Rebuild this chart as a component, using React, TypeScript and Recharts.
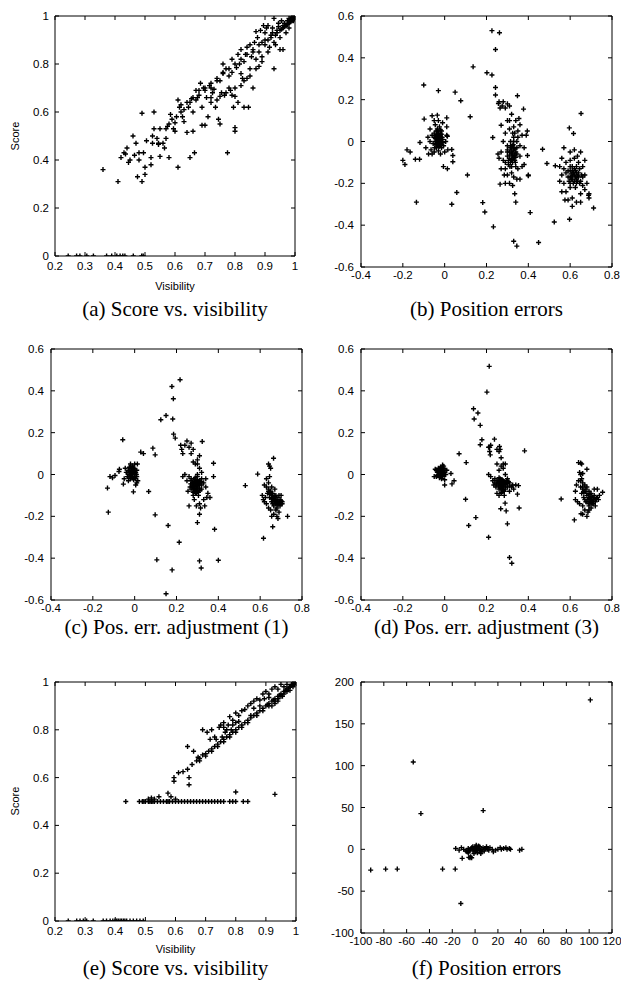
import React from 'react';
import { ScatterChart, Scatter, XAxis, YAxis } from 'recharts';

type Pt = [number, number];

// ---------- tick values ----------
const visTicks = [0.2, 0.3, 0.4, 0.5, 0.6, 0.7, 0.8, 0.9, 1];
const scoreTicks = [0, 0.2, 0.4, 0.6, 0.8, 1];
const posXTicks = [-0.4, -0.2, 0, 0.2, 0.4, 0.6, 0.8];
const posYTicks = [-0.6, -0.4, -0.2, 0, 0.2, 0.4, 0.6];
const pixXTicks = [-100, -80, -60, -40, -20, 0, 20, 40, 60, 80, 100, 120];
const pixYTicks = [-100, -50, 0, 50, 100, 150, 200];

// ---------- (a) score vs visibility ----------
const aZeroRow: Pt[] = [
  [0.244, 0], [0.272, 0], [0.283, 0], [0.306, 0], [0.328, 0], [0.372, 0], [0.389, 0],
  [0.406, 0], [0.417, 0], [0.426, 0], [0.433, 0], [0.461, 0], [0.489, 0], [0.494, 0],
];
const aScatter: Pt[] = [
  [0.36, 0.36], [0.41, 0.31], [0.42, 0.41], [0.43, 0.43], [0.435, 0.425], [0.44, 0.45], [0.445, 0.39],
  [0.45, 0.4], [0.46, 0.5], [0.465, 0.42], [0.47, 0.47], [0.475, 0.33], [0.48, 0.43], [0.48, 0.4],
  [0.49, 0.31], [0.49, 0.595], [0.495, 0.43], [0.5, 0.34], [0.5, 0.37], [0.505, 0.48], [0.52, 0.38],
  [0.52, 0.41], [0.525, 0.47], [0.525, 0.5], [0.53, 0.6], [0.53, 0.53], [0.54, 0.49], [0.545, 0.47],
  [0.545, 0.465], [0.55, 0.53], [0.55, 0.415], [0.56, 0.47], [0.565, 0.45], [0.57, 0.49], [0.57, 0.53],
  [0.575, 0.54], [0.58, 0.41], [0.58, 0.55], [0.585, 0.59], [0.59, 0.57], [0.595, 0.53], [0.6, 0.52],
  [0.6, 0.555], [0.605, 0.58], [0.61, 0.65], [0.61, 0.37], [0.615, 0.62], [0.62, 0.6], [0.625, 0.58],
  [0.63, 0.56], [0.63, 0.61], [0.64, 0.515], [0.645, 0.62], [0.65, 0.41], [0.65, 0.64], [0.655, 0.655],
  [0.66, 0.52], [0.66, 0.6], [0.665, 0.43], [0.67, 0.65], [0.67, 0.69], [0.675, 0.66], [0.68, 0.67],
  [0.685, 0.72], [0.69, 0.62], [0.69, 0.545], [0.695, 0.7], [0.7, 0.69], [0.7, 0.545], [0.705, 0.66],
  [0.71, 0.58], [0.715, 0.71], [0.72, 0.7], [0.72, 0.64], [0.725, 0.68], [0.73, 0.695], [0.735, 0.62],
  [0.74, 0.74], [0.74, 0.65], [0.745, 0.57], [0.75, 0.55], [0.75, 0.73], [0.755, 0.68], [0.76, 0.8],
  [0.76, 0.765], [0.765, 0.67], [0.77, 0.78], [0.775, 0.43], [0.78, 0.75], [0.78, 0.7], [0.785, 0.69],
  [0.79, 0.82], [0.79, 0.765], [0.795, 0.62], [0.8, 0.52], [0.8, 0.535], [0.8, 0.7], [0.805, 0.785],
  [0.81, 0.64], [0.81, 0.84], [0.815, 0.8], [0.82, 0.76], [0.82, 0.86], [0.825, 0.74], [0.83, 0.81],
  [0.83, 0.62], [0.835, 0.84], [0.84, 0.87], [0.84, 0.74], [0.845, 0.62], [0.85, 0.88], [0.85, 0.78],
  [0.855, 0.83], [0.86, 0.86], [0.86, 0.7], [0.865, 0.89], [0.87, 0.935], [0.87, 0.82], [0.875, 0.91],
  [0.88, 0.85], [0.88, 0.79], [0.885, 0.94], [0.89, 0.89], [0.89, 0.81], [0.895, 0.96], [0.9, 0.93],
  [0.9, 0.88], [0.905, 0.95], [0.91, 0.9], [0.91, 0.96], [0.915, 0.87], [0.92, 0.92], [0.925, 0.95],
  [0.93, 0.78], [0.93, 0.99], [0.935, 0.88], [0.94, 0.93], [0.945, 0.97], [0.95, 0.94], [0.95, 0.86],
  [0.955, 0.98], [0.96, 0.95], [0.96, 0.86], [0.965, 0.97], [0.97, 0.96], [0.975, 0.98], [0.98, 0.97],
  [0.985, 0.985], [0.99, 0.99], [0.995, 0.995], [1, 1], [0.99, 0.98], [0.98, 0.95], [0.97, 0.93],
  [0.62, 0.63], [0.64, 0.64], [0.66, 0.66], [0.68, 0.69], [0.7, 0.7], [0.72, 0.72], [0.74, 0.73],
  [0.76, 0.76], [0.78, 0.78], [0.8, 0.8], [0.82, 0.82], [0.84, 0.84], [0.86, 0.85], [0.88, 0.88],
  [0.9, 0.9], [0.92, 0.91], [0.94, 0.94], [0.96, 0.96], [0.98, 0.98], [0.72, 0.66], [0.75, 0.665],
  [0.77, 0.68], [0.79, 0.67], [0.8, 0.665], [0.82, 0.71], [0.83, 0.73], [0.85, 0.75], [0.87, 0.78],
  [0.89, 0.83], [0.91, 0.85], [0.93, 0.89], [0.95, 0.91], [0.995, 0.99], [0.99, 0.995], [1, 0.995],
];
const aCorner: Pt[] = [
  [0.99, 0.985], [0.995, 0.98], [0.985, 0.975], [0.975, 0.965], [0.965, 0.955], [0.99, 1], [1, 0.99],
  [0.98, 0.99], [0.955, 0.945], [0.945, 0.955], [0.935, 0.92], [0.925, 0.93],
];

// ---------- (b) position errors ----------
const bOutliers: Pt[] = [
  [-0.2, -0.09], [-0.19, -0.11], [-0.18, -0.04], [-0.165, -0.05], [-0.14, -0.085], [-0.135, -0.29],
  [-0.12, -0.085], [-0.118, -0.005], [-0.1, 0.27], [-0.098, 0.107], [-0.077, -0.06], [-0.06, 0.123],
  [-0.035, 0.126], [-0.03, 0.243], [0.01, 0.113], [0.013, 0.025], [-0.006, -0.12], [0.013, -0.13],
  [0.034, -0.038], [0.039, -0.067], [0.039, -0.097], [0.034, -0.3], [0.05, 0.236], [0.058, -0.244],
  [0.077, 0.195], [0.109, -0.16], [0.122, 0.118], [0.136, 0.357], [0.182, -0.292], [0.192, -0.337],
  [0.202, 0.329], [0.226, 0.318], [0.226, 0.53], [0.233, -0.408], [0.23, 0.019], [0.243, 0.44],
  [0.243, 0.258], [0.243, 0.222], [0.262, 0.52], [0.257, 0.182], [0.265, -0.204], [0.27, 0.078],
  [0.33, -0.477], [0.345, -0.5], [0.348, 0.219], [0.377, 0.155], [0.396, -0.067], [0.4, -0.164],
  [0.409, -0.34], [0.449, -0.483], [0.468, -0.037], [0.489, -0.105], [0.524, -0.385], [0.529, -0.116],
  [0.596, 0.065], [0.616, 0.038], [0.652, 0.134], [0.597, -0.372], [0.712, -0.318], [0.688, -0.257],
];
const bCluster1: Pt[] = [
  [-0.03, 0.01], [-0.02, 0.02], [-0.04, 0.0], [-0.035, 0.03], [-0.025, -0.01], [-0.045, 0.015],
  [-0.03, -0.02], [-0.02, 0.04], [-0.05, 0.02], [-0.04, 0.05], [-0.01, 0.01], [-0.015, -0.03],
  [-0.055, -0.01], [-0.06, 0.03], [-0.035, 0.06], [-0.025, 0.07], [-0.07, 0.0], [-0.065, -0.04],
  [-0.05, -0.05], [-0.03, -0.045], [-0.005, -0.02], [0.005, 0.0], [0.01, 0.03], [-0.015, 0.05],
  [-0.045, 0.08], [-0.07, 0.06], [-0.08, 0.02], [-0.09, -0.03], [-0.06, -0.06], [0.0, -0.05],
  [0.015, -0.04], [-0.02, -0.06], [-0.04, -0.03], [-0.03, 0.0], [-0.025, 0.015], [-0.035, -0.005],
  [-0.015, 0.0], [-0.05, 0.1], [-0.03, 0.1], [0.01, 0.07], [-0.01, 0.09],
  [-0.035, 0.015], [-0.028, 0.005], [-0.022, 0.025], [-0.04, 0.02], [-0.032, -0.008], [-0.018, 0.012],
  [-0.045, 0.0], [-0.025, 0.03], [-0.038, 0.035], [-0.02, -0.015], [-0.03, 0.04], [-0.012, 0.02],
  [-0.042, -0.015], [-0.027, -0.025], [-0.016, 0.035], [-0.05, 0.04], [-0.033, 0.05], [-0.02, 0.055],
  [-0.01, -0.005], [-0.048, -0.03],
];
const bCluster2: Pt[] = [
  [0.32, -0.06], [0.33, -0.04], [0.31, -0.08], [0.325, -0.02], [0.315, -0.1], [0.34, -0.05],
  [0.3, -0.07], [0.335, -0.09], [0.32, -0.12], [0.345, 0.0], [0.33, 0.02], [0.35, 0.05], [0.36, 0.08],
  [0.34, 0.1], [0.31, 0.06], [0.3, 0.1], [0.29, 0.04], [0.28, 0.0], [0.27, -0.05], [0.28, -0.09],
  [0.29, -0.13], [0.3, -0.16], [0.31, -0.2], [0.325, -0.21], [0.335, -0.25], [0.345, -0.18],
  [0.36, -0.18], [0.37, -0.12], [0.36, -0.07], [0.38, -0.03], [0.39, 0.03], [0.37, 0.03], [0.355, 0.11],
  [0.32, 0.13], [0.31, 0.17], [0.29, 0.16], [0.275, 0.17], [0.265, 0.16], [0.26, 0.19], [0.28, 0.19],
  [0.3, 0.18], [0.26, -0.08], [0.255, -0.06], [0.27, -0.13], [0.285, -0.16], [0.3, -0.02],
  [0.315, -0.03], [0.325, -0.07], [0.31, -0.05], [0.335, -0.065], [0.32, -0.09], [0.305, -0.11],
  [0.34, -0.12], [0.35, -0.13], [0.38, -0.11], [0.395, 0.05], [0.4, -0.16], [0.33, 0.07], [0.315, 0.0],
  [0.345, -0.03], [0.325, 0.04], [0.36, -0.02], [0.29, -0.1], [0.3, -0.04], [0.35, 0.02], [0.32, -0.15],
  [0.33, -0.17], [0.34, -0.29], [0.29, -0.2], [0.31, 0.1],
  [0.325, -0.055], [0.33, -0.075], [0.318, -0.045], [0.335, -0.035], [0.31, -0.065], [0.322, -0.085],
  [0.328, -0.015], [0.34, -0.075], [0.315, -0.02], [0.305, -0.09], [0.33, 0.0], [0.338, -0.1],
  [0.312, -0.12], [0.345, -0.06], [0.3, -0.05], [0.32, -0.03], [0.335, 0.04], [0.325, -0.1],
];
const bCluster3: Pt[] = [
  [0.62, -0.16], [0.61, -0.14], [0.63, -0.18], [0.6, -0.12], [0.64, -0.15], [0.59, -0.17],
  [0.615, -0.2], [0.63, -0.12], [0.65, -0.19], [0.6, -0.22], [0.58, -0.1], [0.57, -0.13], [0.56, -0.16],
  [0.57, -0.2], [0.58, -0.24], [0.59, -0.28], [0.61, -0.27], [0.63, -0.29], [0.61, -0.31], [0.65, -0.25],
  [0.66, -0.21], [0.67, -0.16], [0.66, -0.12], [0.67, -0.09], [0.65, -0.05], [0.62, -0.04], [0.6, -0.05],
  [0.57, -0.03], [0.56, -0.08], [0.55, -0.12], [0.55, -0.19], [0.56, -0.24], [0.575, -0.28],
  [0.62, -0.08], [0.635, -0.07], [0.64, -0.1], [0.6, -0.09], [0.59, -0.14], [0.605, -0.18],
  [0.625, -0.22], [0.645, -0.2], [0.66, -0.17], [0.68, -0.2], [0.69, -0.25], [0.69, -0.27],
  [0.67, -0.23], [0.65, -0.29], [0.6, -0.2], [0.61, -0.165], [0.625, -0.14], [0.595, -0.19],
  [0.58, -0.15], [0.635, -0.165],
  [0.615, -0.15], [0.625, -0.17], [0.63, -0.15], [0.61, -0.18], [0.62, -0.19], [0.635, -0.19],
  [0.605, -0.155], [0.64, -0.17], [0.62, -0.13], [0.61, -0.12], [0.6, -0.14], [0.645, -0.13],
  [0.63, -0.2], [0.655, -0.16], [0.6, -0.17],
];

// ---------- (c) adjustment (1) ----------
const cOutliers: Pt[] = [
  [-0.13, -0.065], [-0.126, -0.18], [-0.118, -0.01], [-0.106, -0.016], [-0.094, -0.005], [-0.075, 0.014],
  [-0.073, 0.025], [-0.057, 0.166], [-0.054, -0.046], [-0.006, -0.083], [0.013, 0.05], [0.01, -0.04],
  [0.029, 0.107], [0.042, 0.1], [0.067, -0.081], [0.087, 0.126], [0.098, 0.094], [0.098, -0.193],
  [0.106, -0.408], [0.125, 0.262], [0.15, 0.282], [0.15, -0.57], [0.16, -0.244], [0.178, 0.421],
  [0.179, -0.456], [0.182, 0.265], [0.185, 0.362], [0.186, 0.193], [0.194, 0.174], [0.213, -0.324],
  [0.217, 0.453], [0.31, -0.413], [0.318, -0.447], [0.31, -0.19], [0.3, -0.23], [0.323, 0.158],
  [0.377, 0.054], [0.377, -0.01], [0.382, -0.262], [0.4, -0.41], [0.529, -0.053], [0.588, 0.002],
  [0.616, -0.305], [0.664, 0.078], [0.731, -0.2],
];
const cCluster1: Pt[] = [
  [-0.01, 0.0], [-0.02, 0.01], [0.0, 0.02], [-0.015, -0.01], [-0.005, 0.03], [-0.025, 0.0], [0.0, -0.01],
  [-0.01, 0.04], [-0.03, 0.02], [-0.02, -0.02], [0.005, 0.01], [-0.035, -0.01], [-0.04, 0.01],
  [-0.015, 0.02], [-0.005, -0.025], [0.01, -0.01], [-0.025, 0.035], [0.0, 0.05], [-0.03, -0.03],
  [0.01, 0.02], [0.015, -0.03], [0.005, -0.05], [-0.045, 0.03], [-0.05, -0.02], [-0.02, 0.05],
  [-0.012, 0.005], [-0.005, 0.012], [-0.018, -0.005], [-0.008, -0.015], [0.002, 0.005], [-0.022, 0.015],
  [-0.014, 0.028], [-0.003, 0.022], [-0.027, -0.012], [0.004, -0.02], [-0.032, 0.008], [-0.008, 0.035],
  [-0.018, 0.04], [0.008, 0.0],
];
const cCluster2: Pt[] = [
  [0.29, -0.04], [0.3, -0.03], [0.28, -0.05], [0.295, -0.06], [0.285, -0.02], [0.31, -0.05], [0.27, -0.03],
  [0.3, -0.08], [0.28, -0.07], [0.32, -0.02], [0.26, -0.01], [0.25, -0.03], [0.24, 0.0], [0.23, -0.01],
  [0.265, -0.06], [0.29, -0.09], [0.305, -0.1], [0.32, -0.07], [0.33, -0.04], [0.34, -0.06], [0.35, -0.09],
  [0.345, -0.11], [0.33, -0.12], [0.31, -0.14], [0.295, -0.15], [0.28, -0.1], [0.26, -0.15], [0.255, -0.08],
  [0.3, 0.0], [0.31, 0.03], [0.29, 0.05], [0.3, 0.07], [0.31, 0.09], [0.28, 0.06], [0.27, 0.1], [0.26, 0.13],
  [0.24, 0.14], [0.22, 0.14], [0.225, 0.12], [0.23, 0.1], [0.25, 0.16], [0.27, 0.15], [0.28, 0.12],
  [0.3, 0.05], [0.32, 0.01], [0.34, -0.02], [0.36, -0.11], [0.335, -0.15], [0.315, -0.16], [0.285, -0.12],
  [0.29, -0.035], [0.295, -0.045], [0.3, -0.055], [0.275, -0.045], [0.285, -0.065], [0.31, -0.065],
  [0.315, -0.035], [0.32, -0.05], [0.27, -0.02], [0.3, -0.025], [0.29, -0.075], [0.305, -0.085],
  [0.285, -0.035], [0.292, -0.05], [0.298, -0.038], [0.282, -0.055], [0.305, -0.045], [0.288, -0.025],
  [0.278, -0.04], [0.295, -0.065], [0.302, -0.07], [0.31, -0.03], [0.275, -0.06], [0.287, -0.08],
  [0.268, -0.045], [0.312, -0.075], [0.29, -0.015], [0.3, -0.01], [0.27, -0.07], [0.32, -0.04],
  [0.295, -0.09], [0.28, -0.085],
];
const cCluster3: Pt[] = [
  [0.66, -0.12], [0.67, -0.13], [0.68, -0.14], [0.69, -0.13], [0.7, -0.14], [0.695, -0.12], [0.685, -0.11],
  [0.675, -0.1], [0.66, -0.09], [0.65, -0.08], [0.64, -0.07], [0.635, -0.09], [0.645, -0.11], [0.655, -0.13],
  [0.665, -0.15], [0.68, -0.16], [0.69, -0.18], [0.68, -0.2], [0.685, -0.21], [0.665, -0.19], [0.65, -0.17],
  [0.64, -0.16], [0.63, -0.14], [0.62, -0.13], [0.615, -0.12], [0.625, -0.11], [0.63, -0.06], [0.64, -0.04],
  [0.645, -0.01], [0.64, 0.05], [0.645, 0.04], [0.65, 0.03], [0.63, -0.02], [0.62, -0.05], [0.61, -0.1],
  [0.655, -0.2], [0.66, -0.25], [0.7, -0.1], [0.705, -0.13], [0.695, -0.15], [0.675, -0.135], [0.66, -0.14],
  [0.67, -0.12], [0.645, -0.095], [0.655, -0.06], [0.67, -0.07], [0.675, -0.17], [0.69, -0.1],
  [0.665, -0.115], [0.675, -0.125], [0.685, -0.13], [0.695, -0.135], [0.69, -0.14], [0.68, -0.12],
  [0.67, -0.105], [0.66, -0.1], [0.65, -0.09], [0.7, -0.125], [0.705, -0.14], [0.685, -0.145],
  [0.672, -0.14], [0.655, -0.115], [0.645, -0.085], [0.64, -0.08],
];

// ---------- (d) adjustment (3) ----------
const dOutliers: Pt[] = [
  [0.069, 0.099], [0.103, 0.057], [0.1, -0.118], [0.115, -0.244], [0.138, 0.314], [0.141, 0.265],
  [0.149, -0.206], [0.159, 0.294], [0.17, 0.235], [0.17, 0.142], [0.178, 0.166], [0.202, 0.394],
  [0.213, 0.517], [0.21, 0.13], [0.21, -0.3], [0.218, 0.094], [0.238, 0.169], [0.262, 0.134],
  [0.268, -0.164], [0.289, -0.137], [0.294, -0.174], [0.3, -0.236], [0.31, -0.397], [0.321, -0.424],
  [0.348, -0.094], [0.353, -0.053], [0.356, -0.16], [0.382, 0.113], [0.557, -0.117], [0.62, -0.217],
  [0.652, -0.188], [0.64, 0.057], [0.755, -0.085], [0.68, 0.025],
];
const dCluster1: Pt[] = [
  [-0.015, 0.01], [-0.01, 0.02], [-0.02, 0.0], [-0.005, 0.03], [-0.025, 0.02], [-0.01, -0.01], [-0.03, 0.01],
  [0.0, 0.01], [-0.02, 0.035], [-0.035, -0.005], [-0.015, -0.02], [0.005, 0.0], [-0.04, 0.02], [-0.045, 0.025],
  [-0.05, -0.01], [-0.005, 0.04], [0.0, -0.025], [-0.025, -0.015], [-0.01, 0.045], [0.01, 0.02], [0.03, 0.005],
  [0.045, -0.03], [0.035, -0.045], [0.0, -0.05], [-0.03, 0.03], [-0.04, -0.01],
  [-0.018, 0.015], [-0.012, 0.005], [-0.022, 0.008], [-0.008, 0.018], [-0.028, 0.0], [-0.015, 0.025],
  [-0.005, 0.008], [-0.025, 0.028], [-0.032, 0.018], [-0.01, -0.005], [-0.02, -0.008], [-0.035, 0.01],
  [0.002, 0.02], [-0.012, 0.035],
];
const dCluster2: Pt[] = [
  [0.27, -0.04], [0.28, -0.03], [0.26, -0.05], [0.275, -0.06], [0.265, -0.02], [0.29, -0.05], [0.25, -0.03],
  [0.28, -0.07], [0.26, -0.07], [0.3, -0.02], [0.24, -0.02], [0.23, -0.03], [0.22, -0.01], [0.21, 0.0],
  [0.245, -0.06], [0.27, -0.09], [0.285, -0.1], [0.3, -0.06], [0.31, -0.04], [0.32, -0.06], [0.33, -0.07],
  [0.34, -0.05], [0.29, 0.0], [0.28, 0.03], [0.29, 0.05], [0.28, 0.05], [0.27, 0.04], [0.25, 0.05],
  [0.26, 0.02], [0.27, 0.08], [0.26, 0.11], [0.25, 0.12], [0.265, 0.12], [0.22, 0.14], [0.215, 0.11],
  [0.215, 0.13], [0.26, -0.1], [0.25, -0.09], [0.235, -0.05], [0.31, -0.08], [0.325, -0.05], [0.255, -0.04],
  [0.27, -0.05], [0.28, -0.045], [0.265, -0.035], [0.275, -0.025], [0.285, -0.035], [0.295, -0.04],
  [0.27, -0.065], [0.29, -0.07],
  [0.268, -0.035], [0.275, -0.045], [0.262, -0.04], [0.28, -0.055], [0.285, -0.04], [0.258, -0.055],
  [0.27, -0.025], [0.29, -0.06], [0.265, -0.065], [0.255, -0.03], [0.295, -0.03], [0.278, -0.075],
  [0.248, -0.045], [0.3, -0.045], [0.31, -0.055], [0.26, -0.015], [0.285, -0.08], [0.24, -0.04],
  [0.305, -0.035], [0.272, -0.085],
];
const dCluster3: Pt[] = [
  [0.69, -0.11], [0.7, -0.12], [0.71, -0.13], [0.72, -0.12], [0.73, -0.11], [0.715, -0.1], [0.7, -0.09],
  [0.68, -0.1], [0.67, -0.08], [0.66, -0.07], [0.65, -0.06], [0.655, -0.09], [0.665, -0.11], [0.675, -0.13],
  [0.69, -0.15], [0.69, -0.17], [0.68, -0.2], [0.685, -0.18], [0.7, -0.16], [0.72, -0.15], [0.735, -0.12],
  [0.74, -0.1], [0.73, -0.07], [0.66, -0.04], [0.655, -0.02], [0.65, 0.0], [0.645, 0.01], [0.66, 0.005],
  [0.65, 0.055], [0.655, 0.05], [0.64, -0.03], [0.63, -0.05], [0.625, -0.08], [0.625, -0.12], [0.635, -0.13],
  [0.645, -0.14], [0.66, -0.15], [0.67, -0.17], [0.705, -0.14], [0.71, -0.11], [0.68, -0.06], [0.67, -0.05],
  [0.67, -0.12], [0.695, -0.13], [0.715, -0.07], [0.69, -0.08], [0.66, -0.19], [0.65, -0.03],
  [0.69, -0.115], [0.7, -0.105], [0.705, -0.125], [0.695, -0.095], [0.685, -0.12], [0.71, -0.12],
  [0.72, -0.13], [0.7, -0.135], [0.68, -0.09], [0.665, -0.085], [0.675, -0.07], [0.66, -0.06],
  [0.725, -0.115], [0.71, -0.14], [0.69, -0.14], [0.68, -0.13],
];

// ---------- (e) score vs visibility (adjusted) ----------
const eZeroRow: Pt[] = [
  [0.244, 0], [0.272, 0], [0.283, 0], [0.294, 0], [0.305, 0], [0.327, 0], [0.36, 0], [0.371, 0], [0.383, 0],
  [0.392, 0], [0.399, 0], [0.405, 0], [0.41, 0], [0.416, 0], [0.421, 0], [0.427, 0], [0.432, 0], [0.438, 0],
  [0.449, 0], [0.46, 0], [0.471, 0], [0.482, 0], [0.493, 0],
];
const eHalfRow: Pt[] = [
  [0.435, 0.5], [0.48, 0.5], [0.49, 0.5], [0.495, 0.5], [0.5, 0.5], [0.51, 0.5], [0.515, 0.5], [0.52, 0.5],
  [0.525, 0.5], [0.53, 0.5], [0.54, 0.5], [0.55, 0.5], [0.56, 0.5], [0.57, 0.5], [0.575, 0.5], [0.58, 0.5],
  [0.59, 0.5], [0.6, 0.5], [0.61, 0.5], [0.62, 0.5], [0.63, 0.5], [0.64, 0.5], [0.65, 0.5], [0.66, 0.5],
  [0.67, 0.5], [0.68, 0.5], [0.69, 0.5], [0.7, 0.5], [0.71, 0.5], [0.72, 0.5], [0.73, 0.5], [0.74, 0.5],
  [0.75, 0.5], [0.76, 0.5], [0.78, 0.5], [0.79, 0.5], [0.8, 0.5], [0.825, 0.5], [0.84, 0.5],
  [0.51, 0.51], [0.52, 0.515], [0.53, 0.51], [0.545, 0.52], [0.575, 0.535], [0.585, 0.52], [0.6, 0.51],
  [0.8, 0.54], [0.93, 0.53],
];
const eDiagonal: Pt[] = [
  [0.595, 0.585], [0.595, 0.6], [0.61, 0.62], [0.625, 0.625], [0.64, 0.635], [0.64, 0.73], [0.645, 0.6],
  [0.645, 0.57], [0.655, 0.655], [0.66, 0.71], [0.67, 0.67], [0.675, 0.685], [0.68, 0.68], [0.69, 0.695],
  [0.69, 0.8], [0.7, 0.7], [0.705, 0.79], [0.71, 0.71], [0.715, 0.76], [0.72, 0.72], [0.72, 0.8],
  [0.73, 0.73], [0.73, 0.77], [0.735, 0.76], [0.74, 0.74], [0.745, 0.81], [0.75, 0.75], [0.75, 0.82],
  [0.755, 0.77], [0.76, 0.76], [0.76, 0.83], [0.765, 0.79], [0.77, 0.77], [0.775, 0.82], [0.78, 0.78],
  [0.78, 0.855], [0.79, 0.79], [0.79, 0.84], [0.8, 0.8], [0.8, 0.87], [0.81, 0.81], [0.81, 0.86],
  [0.82, 0.82], [0.82, 0.88], [0.83, 0.83], [0.83, 0.885], [0.84, 0.84], [0.84, 0.9], [0.85, 0.85],
  [0.85, 0.91], [0.86, 0.86], [0.86, 0.92], [0.87, 0.87], [0.87, 0.93], [0.88, 0.88], [0.88, 0.925],
  [0.89, 0.89], [0.89, 0.95], [0.9, 0.9], [0.9, 0.96], [0.91, 0.91], [0.91, 0.95], [0.92, 0.92],
  [0.92, 0.97], [0.93, 0.93], [0.93, 0.98], [0.94, 0.94], [0.94, 0.97], [0.95, 0.95], [0.95, 0.99],
  [0.96, 0.96], [0.97, 0.97], [0.98, 0.98], [0.99, 0.99], [1, 1], [0.995, 0.995], [0.985, 0.985],
  [0.965, 0.965], [0.945, 0.945], [0.925, 0.925], [0.905, 0.905], [0.895, 0.93], [0.91, 0.935],
  [0.92, 0.9], [0.93, 0.91], [0.94, 0.92], [0.955, 0.94], [0.96, 0.98], [0.97, 0.99], [0.85, 0.86],
  [0.86, 0.89], [0.88, 0.9], [0.76, 0.81], [0.77, 0.8], [0.785, 0.8], [0.79, 0.82], [0.8, 0.83],
  [0.81, 0.835],
  [0.99, 0.98], [0.985, 0.99], [0.975, 0.975], [0.995, 0.99], [0.98, 0.965], [0.97, 0.96], [0.96, 0.95],
  [0.95, 0.94], [0.94, 0.93], [0.93, 0.92], [0.91, 0.9], [0.89, 0.88], [0.87, 0.86], [0.84, 0.83],
  [0.82, 0.81], [0.8, 0.79], [0.78, 0.77], [0.76, 0.75], [0.74, 0.73], [0.72, 0.71], [0.7, 0.69],
  [0.68, 0.67],
];

// ---------- (f) position errors in pixels ----------
const fOutliers: Pt[] = [
  [-91.5, -24.8], [-78.4, -23.6], [-68.2, -23.6], [-54.2, 104.3], [-47.5, 42.7], [-28.5, -23.6],
  [-17.4, -23.6], [-12.5, -64.7], [-11.3, -10.8], [7.1, 46.3], [101, 178.6], [-5.5, -9.6], [-4.5, -10],
];
const fCluster: Pt[] = [
  [-17, 1], [-14, -1], [-12, 2], [-10, 0], [-8, -2], [-7, -3], [-6, 1], [-5, -2], [-4, 0], [-3, 2], [-2, -1],
  [-1, 1], [0, 0], [1, 2], [2, -1], [3, 1], [4, 3], [0, -3], [-1, -5], [2, -4], [5, -1], [6, 0], [7, 2],
  [8, -2], [9, 1], [10, 3], [11, 0], [12, -1], [13, 2], [15, 0], [16, -3], [18, -1], [20, 0], [22, 2],
  [23, 0], [25, 1], [27, 2], [28, 0], [30, 1], [31, 0], [39, -1], [41, 0], [-4, -9], [-3, -10], [5, -5],
  [3, 4], [1, 5], [-2, 3], [0, 1], [1, -1], [-1, 0], [2, 1], [0, 3], [-6, -4], [-7, -2], [4, -2], [6, -3],
];

const toObj = (arr: Pt[]) => arr.map(([x, y]) => ({ x, y }));

const SANS = '"Liberation Sans", Arial, sans-serif';
const SERIF = '"Liberation Serif", "Times New Roman", serif';
const INK = '#000';
const TICK_FS = 11.5;

const Plus = (p: any) => {
  if (p.cx == null || p.cy == null) return null;
  return (
    <path
      d={`M${p.cx - 2.5},${p.cy}h5M${p.cx},${p.cy - 2.5}v5`}
      stroke={INK}
      strokeWidth={1.4}
      fill="none"
    />
  );
};

type PanelProps = {
  left: number;
  top: number;
  width: number;
  height: number;
  m: { top: number; right: number; bottom: number; left: number };
  data: { x: number; y: number }[];
  xDomain: [number, number];
  yDomain: [number, number];
  xTicks: number[];
  yTicks: number[];
  xGap: number;
  yGap: number;
};

const AX = 1; // thickness reserved by each axis

function Panel(props: PanelProps) {
  const { left, top, width, height, m, data, xDomain, yDomain, xTicks, yTicks, xGap, yGap } = props;
  const pl = m.left;
  const pr = width - m.right;
  const pt = m.top;
  const pb = height - m.bottom;
  const TL = 4;
  const margin = { top: m.top - AX, right: m.right - AX, bottom: m.bottom - AX, left: m.left - AX };

  const BottomTick = (p: any) => (
    <g>
      <line x1={p.x} x2={p.x} y1={pb} y2={pb - TL} stroke={INK} />
      <text x={p.x} y={pb + xGap} textAnchor="middle" fontSize={TICK_FS} fontFamily={SANS} fill={INK}>
        {String(p.payload.value)}
      </text>
    </g>
  );
  const TopTick = (p: any) => <line x1={p.x} x2={p.x} y1={pt} y2={pt + TL} stroke={INK} />;
  const LeftTick = (p: any) => (
    <g>
      <line x1={pl} x2={pl + TL} y1={p.y} y2={p.y} stroke={INK} />
      <text x={pl - yGap} y={p.y + 4} textAnchor="end" fontSize={TICK_FS} fontFamily={SANS} fill={INK}>
        {String(p.payload.value)}
      </text>
    </g>
  );
  const RightTick = (p: any) => <line x1={pr} x2={pr - TL} y1={p.y} y2={p.y} stroke={INK} />;

  return (
    <div style={{ position: 'absolute', left, top, width, height }}>
      <ScatterChart width={width} height={height} margin={margin}>
        <XAxis xAxisId="b" type="number" dataKey="x" domain={xDomain} ticks={xTicks} interval={0}
          tick={BottomTick} tickLine={false} axisLine={{ stroke: INK }} height={AX} allowDataOverflow />
        <XAxis xAxisId="t" orientation="top" type="number" dataKey="x" domain={xDomain} ticks={xTicks}
          interval={0} tick={TopTick} tickLine={false} axisLine={{ stroke: INK }} height={AX} allowDataOverflow />
        <YAxis yAxisId="l" type="number" dataKey="y" domain={yDomain} ticks={yTicks} interval={0}
          tick={LeftTick} tickLine={false} axisLine={{ stroke: INK }} width={AX} allowDataOverflow />
        <YAxis yAxisId="r" orientation="right" type="number" dataKey="y" domain={yDomain} ticks={yTicks}
          interval={0} tick={RightTick} tickLine={false} axisLine={{ stroke: INK }} width={AX} allowDataOverflow />
        <Scatter data={data} xAxisId="b" yAxisId="l" shape={Plus} isAnimationActive={false} />
      </ScatterChart>
    </div>
  );
}

const dataA = toObj([...aZeroRow, ...aScatter, ...aCorner]);
const dataB = toObj([...bOutliers, ...bCluster1, ...bCluster2, ...bCluster3]);
const dataC = toObj([...cOutliers, ...cCluster1, ...cCluster2, ...cCluster3]);
const dataD = toObj([...dOutliers, ...dCluster1, ...dCluster2, ...dCluster3]);
const dataE = toObj([...eZeroRow, ...eHalfRow, ...eDiagonal]);
const dataF = toObj([...fOutliers, ...fCluster]);

const captions = [
  { x: 175, y: 316, t: '(a) Score vs. visibility' },
  { x: 486.5, y: 316, t: '(b) Position errors' },
  { x: 176.5, y: 634, t: '(c) Pos. err. adjustment (1)' },
  { x: 486.5, y: 634, t: '(d) Pos. err. adjustment (3)' },
  { x: 175.5, y: 975, t: '(e) Score vs. visibility' },
  { x: 486.5, y: 975, t: '(f) Position errors' },
];

export default function App() {
  return (
    <div style={{ position: 'absolute', left: 0, top: 0, width: 621, height: 987, background: '#fff', overflow: 'hidden' }}>
      <Panel left={0} top={0} width={310} height={300} m={{ top: 16, right: 15, bottom: 44, left: 55 }}
        data={dataA} xDomain={[0.2, 1]} yDomain={[0, 1]} xTicks={visTicks} yTicks={scoreTicks} xGap={14} yGap={6} />
      <Panel left={310} top={0} width={311} height={300} m={{ top: 16, right: 9, bottom: 33, left: 51 }}
        data={dataB} xDomain={[-0.4, 0.8]} yDomain={[-0.6, 0.6]} xTicks={posXTicks} yTicks={posYTicks} xGap={12} yGap={7} />
      <Panel left={0} top={330} width={310} height={300} m={{ top: 19, right: 8, bottom: 30, left: 51 }}
        data={dataC} xDomain={[-0.4, 0.8]} yDomain={[-0.6, 0.6]} xTicks={posXTicks} yTicks={posYTicks} xGap={12} yGap={7} />
      <Panel left={310} top={330} width={311} height={300} m={{ top: 19, right: 9, bottom: 30, left: 51 }}
        data={dataD} xDomain={[-0.4, 0.8]} yDomain={[-0.6, 0.6]} xTicks={posXTicks} yTicks={posYTicks} xGap={12} yGap={7} />
      <Panel left={0} top={650} width={310} height={300} m={{ top: 32, right: 14, bottom: 29, left: 55 }}
        data={dataE} xDomain={[0.2, 1]} yDomain={[0, 1]} xTicks={visTicks} yTicks={scoreTicks} xGap={14} yGap={6} />
      <Panel left={310} top={650} width={311} height={300} m={{ top: 32, right: 9, bottom: 17, left: 51 }}
        data={dataF} xDomain={[-100, 120]} yDomain={[-100, 200]} xTicks={pixXTicks} yTicks={pixYTicks} xGap={12} yGap={7} />
      <svg width={621} height={987} style={{ position: 'absolute', left: 0, top: 0, pointerEvents: 'none' }}>
        <text x={175} y={290} textAnchor="middle" fontSize={11} fontFamily={SANS} fill={INK}>Visibility</text>
        <text x={19} y={136} textAnchor="middle" fontSize={11} fontFamily={SANS} fill={INK} transform="rotate(-90 19 136)">Score</text>
        <text x={175.5} y={953} textAnchor="middle" fontSize={11} fontFamily={SANS} fill={INK}>Visibility</text>
        <text x={19} y={801} textAnchor="middle" fontSize={11} fontFamily={SANS} fill={INK} transform="rotate(-90 19 801)">Score</text>
        {captions.map((c) => (
          <text key={c.t} x={c.x} y={c.y} textAnchor="middle" fontSize={21} fontFamily={SERIF} fill={INK}>{c.t}</text>
        ))}
      </svg>
    </div>
  );
}
